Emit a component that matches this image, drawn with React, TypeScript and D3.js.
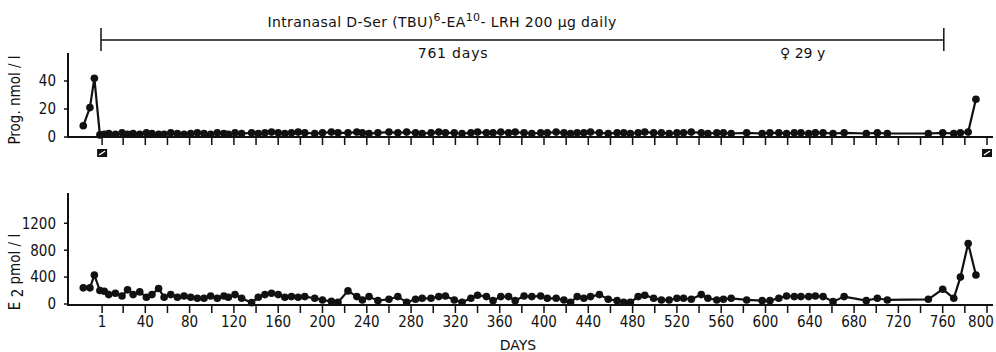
import { useEffect, useRef } from 'react';
import * as d3 from 'd3';

// sampling days (day 0 = start of treatment)
const days = [
  -16, -10, -6, -1, 3, 7, 13, 19, 24, 29, 35, 41, 46, 52, 57, 63, 69, 75, 81, 87,
  93, 99, 105, 111, 115, 121, 127, 136, 142, 148, 154, 160, 166, 172, 178, 184, 193, 200, 208, 214,
  223, 231, 236, 242, 250, 260, 268, 276, 284, 290, 298, 305, 311, 319, 326, 334, 340, 348, 354, 361,
  368, 374, 382, 389, 397, 403, 411, 418, 424, 430, 436, 442, 450, 458, 466, 472, 478, 485, 491, 499,
  506, 513, 520, 526, 533, 542, 548, 556, 562, 569, 583, 597, 604, 612, 619, 626, 632, 639, 645, 652,
  661, 671, 691, 701, 710, 747, 760, 770, 776, 783, 790,
];

// progesterone, nmol/l
const progValues = [
  8, 21, 42, 1.5,
  2, 2.5, 2, 3, 2, 2.5, 2, 3, 2.5, 2, 2, 3, 2.5, 2, 2.5, 3,
  2.5, 2, 3, 2.5, 2, 3, 2.5, 3, 2.5, 3, 3.5, 3, 2.5, 3, 3.5, 3, 2.5, 3, 3.5, 3,
  3, 3.5, 3, 2.5, 3, 3.5, 3, 3.5, 3, 2.5, 3, 3.5, 3, 3, 2.5, 3, 3.5, 3, 3, 3.5,
  3, 3.5, 3, 2.5, 3, 3, 3.5, 3, 2.5, 3, 3, 3.5, 3, 2.5, 3, 3, 2.5, 3, 3.5, 3,
  3, 2.5, 3, 3, 3.5, 3, 2.5, 3, 3, 2.5, 3, 2.5, 3, 3, 2.5, 3, 3, 2.5, 3, 3,
  2.5, 3, 2.5, 3, 2.5, 2.5, 3, 2.5, 3, 3.5,
  27,
];

// estradiol, pmol/l
const e2Values = [
  240, 240, 430, 200, 190, 140, 160, 120, 210, 140, 180, 100, 140, 230, 100, 140, 100, 120, 100, 85,
  85, 120, 85, 120, 100, 140, 85, 20, 100, 140, 160, 140, 100, 110, 100, 110, 85, 60, 40, 25,
  195, 110, 60, 110, 50, 70, 110, 25, 70, 85, 85, 110, 120, 60, 25, 85, 130, 110, 50, 110,
  110, 50, 120, 110, 120, 85, 85, 60, 25, 110, 85, 110, 140, 70, 50, 25, 25, 110, 130, 85,
  60, 60, 85, 85, 70, 140, 85, 60, 70, 85, 60, 50, 50, 85, 120, 110, 110, 110, 120, 110,
  35, 110, 50, 85, 60, 70, 220, 85, 400, 900, 430,
];

const dayTicks = [
  1, 20, 40, 60, 80, 100, 120, 140, 160, 180, 200, 220, 240, 260, 280, 300, 320, 340, 360, 380,
  400, 420, 440, 460, 480, 500, 520, 540, 560, 580, 600, 620, 640, 660, 680, 700, 720, 740, 760, 780, 800,
];
const dayLabels = [1, 40, 80, 120, 160, 200, 240, 280, 320, 360, 400, 440, 480, 520, 560, 600, 640, 680, 720, 760, 800];
const progTicks = [0, 20, 40];
const e2Ticks = [0, 400, 800, 1200];
const bleedingDays = [1, 800];
const treatmentDays = [0, 761];

const NARROW = '"DejaVu Sans Condensed", "DejaVu Sans", sans-serif';
const WIDE = '"DejaVu Sans", sans-serif';
const INK = '#111';

export default function App() {
  const svgRef = useRef<SVGSVGElement>(null);

  useEffect(() => {
    if (!svgRef.current) return;
    const svg = d3.select(svgRef.current);
    svg.selectAll('*').remove();

    const x = d3.scaleLinear().domain([0, 800]).range([101, 987]);
    const yProg = d3.scaleLinear().domain([0, 60]).range([137, 53]);
    const yE2 = d3.scaleLinear().domain([0, 1650]).range([304, 193]);

    const drawPanel = (
      y: d3.ScaleLinear<number, number>,
      values: number[],
      yTicks: number[],
      baseY: number,
      withLabels: boolean,
    ) => {
      const g = svg.append('g');
      const [y0, y1] = y.range();

      // y axis
      g.append('line')
        .attr('x1', 68).attr('x2', 68)
        .attr('y1', y1).attr('y2', Math.max(y0, baseY))
        .attr('stroke', INK).attr('stroke-width', 2);
      g.selectAll('.yt').data(yTicks).enter().append('line')
        .attr('x1', 64).attr('x2', 68)
        .attr('y1', d => y(d)).attr('y2', d => y(d))
        .attr('stroke', INK).attr('stroke-width', 1.5);
      g.selectAll('.yl').data(yTicks).enter().append('text')
        .attr('x', 56).attr('y', d => y(d))
        .attr('dy', '0.36em')
        .attr('text-anchor', 'end')
        .attr('font-family', NARROW).attr('font-stretch', 'condensed')
        .attr('font-size', 15)
        .attr('fill', INK)
        .text(d => `${d}`);

      // x axis
      g.append('line')
        .attr('x1', 67).attr('x2', 993)
        .attr('y1', baseY).attr('y2', baseY)
        .attr('stroke', INK).attr('stroke-width', 2);
      g.selectAll('.xt').data(dayTicks).enter().append('line')
        .attr('x1', d => x(d)).attr('x2', d => x(d))
        .attr('y1', baseY).attr('y2', baseY + 8)
        .attr('stroke', INK).attr('stroke-width', 1.5);
      if (withLabels) {
        g.selectAll('.xl').data(dayLabels).enter().append('text')
          .attr('x', d => Math.min(x(d), 981))
          .attr('y', baseY + 17)
          .attr('dy', '0.36em')
          .attr('text-anchor', 'middle')
          .attr('font-family', NARROW).attr('font-stretch', 'condensed')
          .attr('font-size', 15)
          .attr('fill', INK)
          .text(d => `${d}`);
      }

      // series
      const pts = days.map((d, i) => ({ day: d, v: values[i] }));
      const line = d3.line<{ day: number; v: number }>()
        .x(d => x(d.day))
        .y(d => y(d.v));
      g.append('path')
        .datum(pts)
        .attr('fill', 'none')
        .attr('stroke', INK)
        .attr('stroke-width', 2.2)
        .attr('d', line);
      g.selectAll('.dot').data(pts).enter().append('circle')
        .attr('cx', d => x(d.day))
        .attr('cy', d => y(d.v))
        .attr('r', 3.8)
        .attr('fill', INK);
    };

    drawPanel(yProg, progValues, progTicks, 137, false);
    drawPanel(yE2, e2Values, e2Ticks, 305, true);

    // bleeding markers under the top panel
    bleedingDays.forEach(d => {
      const bx = x(d);
      svg.append('rect')
        .attr('x', bx - 5).attr('y', 149)
        .attr('width', 10).attr('height', 8)
        .attr('fill', INK);
      svg.append('line')
        .attr('x1', bx - 3).attr('y1', 155)
        .attr('x2', bx + 3).attr('y2', 151)
        .attr('stroke', '#fff').attr('stroke-width', 1.5);
    });

    // treatment bracket
    const [t0, t1] = treatmentDays.map(d => x(d));
    svg.append('line')
      .attr('x1', t0).attr('x2', t1).attr('y1', 40).attr('y2', 40)
      .attr('stroke', INK).attr('stroke-width', 1.5);
    [t0, t1].forEach(tx => {
      svg.append('line')
        .attr('x1', tx).attr('x2', tx).attr('y1', 28).attr('y2', 51)
        .attr('stroke', INK).attr('stroke-width', 1.5);
    });

    const title = svg.append('text')
      .attr('x', 442).attr('y', 27)
      .attr('text-anchor', 'middle')
      .attr('font-family', WIDE)
      .attr('font-size', 14)
      .attr('letter-spacing', 0.4)
      .attr('fill', INK);
    title.append('tspan').text('Intranasal D-Ser (TBU)');
    title.append('tspan').attr('dy', -6).attr('font-size', 11).text('6');
    title.append('tspan').attr('dy', 6).text('-EA');
    title.append('tspan').attr('dy', -6).attr('font-size', 11).text('10');
    title.append('tspan').attr('dy', 6).text('- LRH  200 µg  daily');

    svg.append('text')
      .attr('x', 453).attr('y', 58)
      .attr('text-anchor', 'middle')
      .attr('font-family', WIDE)
      .attr('font-size', 14)
      .attr('letter-spacing', 0.8)
      .attr('fill', INK)
      .text('761  days');

    svg.append('text')
      .attr('x', 780).attr('y', 58)
      .attr('font-family', WIDE)
      .attr('font-size', 14)
      .attr('fill', INK)
      .text('♀ 29 y');

    // axis titles
    svg.append('text')
      .attr('transform', 'translate(20,100) rotate(-90)')
      .attr('text-anchor', 'middle')
      .attr('font-family', NARROW).attr('font-stretch', 'condensed')
      .attr('font-size', 15)
      .attr('fill', INK)
      .text('Prog. nmol / l');

    const e2Title = svg.append('text')
      .attr('transform', 'translate(20,272) rotate(-90)')
      .attr('text-anchor', 'middle')
      .attr('font-family', NARROW).attr('font-stretch', 'condensed')
      .attr('font-size', 15)
      .attr('fill', INK);
    e2Title.append('tspan').text('E ');
    e2Title.append('tspan').attr('dy', 3).text('2');
    e2Title.append('tspan').attr('dy', -3).text('  pmol / l');

    svg.append('text')
      .attr('x', 518).attr('y', 350)
      .attr('text-anchor', 'middle')
      .attr('font-family', WIDE)
      .attr('font-size', 14)
      .attr('fill', INK)
      .text('DAYS');
  }, []);

  return (
    <svg
      ref={svgRef}
      width={996}
      height={352}
      style={{ position: 'absolute', left: 0, top: 0, background: '#fff' }}
    />
  );
}
